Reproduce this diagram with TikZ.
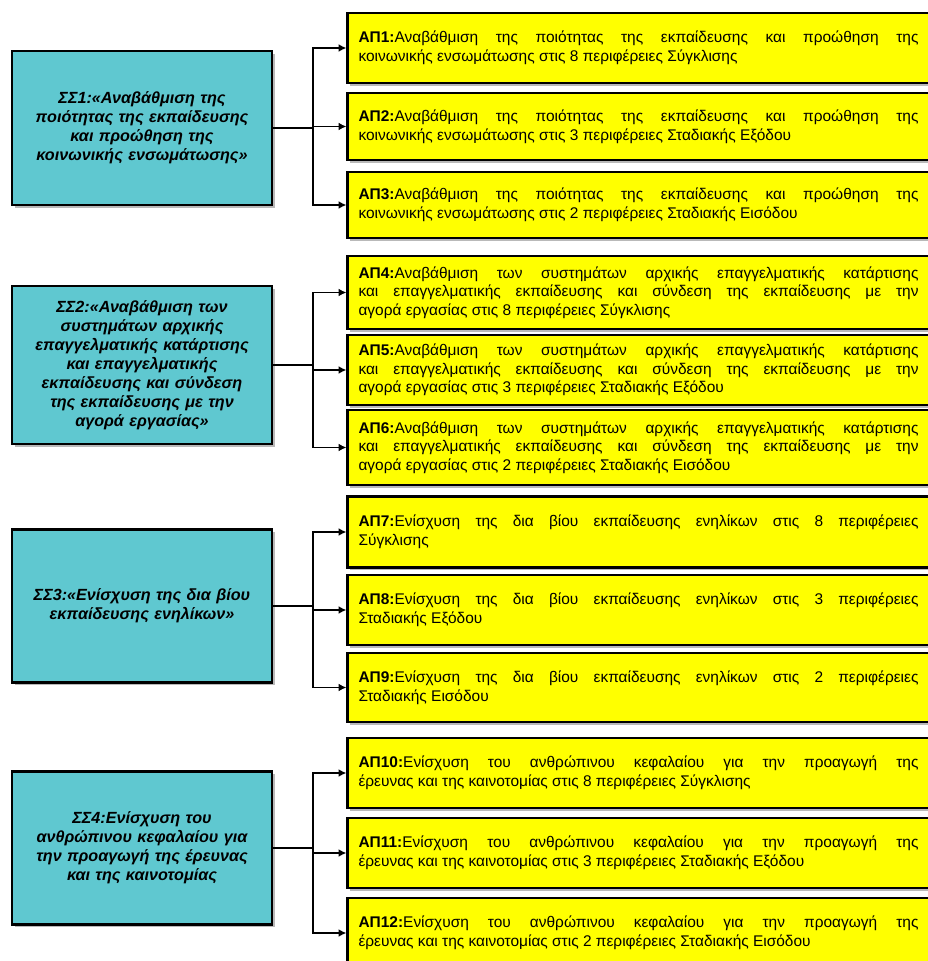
\documentclass[tikz,border=0pt]{standalone}
\usepackage{fontspec}
\setmainfont{Liberation Sans}
\usepackage{tikz}
\usetikzlibrary{arrows.meta, shadows}
\definecolor{GoalCyan}{HTML}{5FC8D0}
\definecolor{ActionYellow}{HTML}{FFFF00}
\definecolor{EdgeBlack}{HTML}{000000}
\tikzset{
    goalbox/.style={
        draw=EdgeBlack,
        line width=1.6pt,
        fill=GoalCyan,
        minimum width=5.2cm,
        text width=4.9cm,
        font=\fontsize{9.2}{10.8}\selectfont\bfseries\itshape,
        align=center,
        drop shadow={shadow xshift=1.5pt, shadow yshift=-1.5pt, fill=black!55}
    },
    actionbox/.style={
        draw=EdgeBlack,
        line width=1.2pt,
        fill=ActionYellow,
        minimum width=11.64cm,
        minimum height=1.4cm,
        text width=11.2cm,
        font=\fontsize{8.8}{10.6}\selectfont,
        align=justify,
        drop shadow={shadow xshift=1.5pt, shadow yshift=-1.5pt, fill=black!55}
    },
    link/.style={
        -{Latex[length=4.5pt, width=4.5pt]},
        line width=1.1pt,
        EdgeBlack
    }
}
\begin{document}
\begin{tikzpicture}
    \useasboundingbox (0,0) rectangle (18.56,-19.22);

    % Strategic goal 1
    \node[goalbox, minimum height=3.08cm] (ss1) at (2.84,-2.56) {ΣΣ1:«Αναβάθμιση της\\ ποιότητας της εκπαίδευσης\\ και προώθηση της\\ κοινωνικής ενσωμάτωσης»};

    \node[actionbox] (ap1) at (12.77,-0.96) {\textbf{ΑΠ1:}Αναβάθμιση της ποιότητας της εκπαίδευσης και προώθηση της\linebreak κοινωνικής ενσωμάτωσης στις 8 περιφέρειες Σύγκλισης};
    \node[actionbox, minimum height=1.34cm] (ap2) at (12.77,-2.53) {\textbf{ΑΠ2:}Αναβάθμιση της ποιότητας της εκπαίδευσης και προώθηση της\linebreak κοινωνικής ενσωμάτωσης στις 3 περιφέρειες Σταδιακής Εξόδου};
    \node[actionbox, minimum height=1.32cm] (ap3) at (12.77,-4.10) {\textbf{ΑΠ3:}Αναβάθμιση της ποιότητας της εκπαίδευσης και προώθηση της\linebreak κοινωνικής ενσωμάτωσης στις 2 περιφέρειες Σταδιακής Εισόδου};

    \draw[link] (ss1.east) -- ++(0.8,0) |- (ap1.west);
    \draw[link] (ss1.east) -- ++(0.8,0) |- (ap2.west);
    \draw[link] (ss1.east) -- ++(0.8,0) |- (ap3.west);

    % Strategic goal 2
    \node[goalbox, minimum height=3.16cm] (ss2) at (2.84,-7.30) {ΣΣ2:«Αναβάθμιση των\\ συστημάτων αρχικής\\ επαγγελματικής κατάρτισης\\ και επαγγελματικής\\ εκπαίδευσης και σύνδεση\\ της εκπαίδευσης με την\\ αγορά εργασίας»};

    \node[actionbox, minimum height=1.46cm] (ap4) at (12.77,-5.85) {\textbf{ΑΠ4:}Αναβάθμιση των συστημάτων αρχικής επαγγελματικής κατάρτισης\linebreak και επαγγελματικής εκπαίδευσης και σύνδεση της εκπαίδευσης με την\linebreak αγορά εργασίας στις 8 περιφέρειες Σύγκλισης};
    \node[actionbox] (ap5) at (12.77,-7.40) {\textbf{ΑΠ5:}Αναβάθμιση των συστημάτων αρχικής επαγγελματικής κατάρτισης\linebreak και επαγγελματικής εκπαίδευσης και σύνδεση της εκπαίδευσης με την\linebreak αγορά εργασίας στις 3 περιφέρειες Σταδιακής Εξόδου};
    \node[actionbox, minimum height=1.5cm] (ap6) at (12.77,-8.95) {\textbf{ΑΠ6:}Αναβάθμιση των συστημάτων αρχικής επαγγελματικής κατάρτισης\linebreak και επαγγελματικής εκπαίδευσης και σύνδεση της εκπαίδευσης με την\linebreak αγορά εργασίας στις 2 περιφέρειες Σταδιακής Εισόδου};

    \draw[link] (ss2.east) -- ++(0.8,0) |- (ap4.west);
    \draw[link] (ss2.east) -- ++(0.8,0) |- (ap5.west);
    \draw[link] (ss2.east) -- ++(0.8,0) |- (ap6.west);

    % Strategic goal 3
    \node[goalbox, minimum height=3.06cm] (ss3) at (2.84,-12.12) {ΣΣ3:«Ενίσχυση της δια βίου\\ εκπαίδευσης ενηλίκων»};

    \node[actionbox, minimum height=1.42cm] (ap7) at (12.77,-10.64) {\textbf{ΑΠ7:}Ενίσχυση της δια βίου εκπαίδευσης ενηλίκων στις 8 περιφέρειες\linebreak Σύγκλισης};
    \node[actionbox] (ap8) at (12.77,-12.20) {\textbf{ΑΠ8:}Ενίσχυση της δια βίου εκπαίδευσης ενηλίκων στις 3 περιφέρειες\linebreak Σταδιακής Εξόδου};
    \node[actionbox, minimum height=1.38cm] (ap9) at (12.77,-13.75) {\textbf{ΑΠ9:}Ενίσχυση της δια βίου εκπαίδευσης ενηλίκων στις 2 περιφέρειες\linebreak Σταδιακής Εισόδου};

    \draw[link] (ss3.east) -- ++(0.8,0) |- (ap7.west);
    \draw[link] (ss3.east) -- ++(0.8,0) |- (ap8.west);
    \draw[link] (ss3.east) -- ++(0.8,0) |- (ap9.west);

    % Strategic goal 4
    \node[goalbox, minimum height=3.06cm] (ss4) at (2.84,-16.96) {ΣΣ4:Ενίσχυση του\\ ανθρώπινου κεφαλαίου για\\ την προαγωγή της έρευνας\\ και της καινοτομίας};

    \node[actionbox] (ap10) at (12.77,-15.46) {\textbf{ΑΠ10:}Ενίσχυση του ανθρώπινου κεφαλαίου για την προαγωγή της\linebreak έρευνας και της καινοτομίας στις 8 περιφέρειες Σύγκλισης};
    \node[actionbox] (ap11) at (12.77,-17.06) {\textbf{ΑΠ11:}Ενίσχυση του ανθρώπινου κεφαλαίου για την προαγωγή της\linebreak έρευνας και της καινοτομίας στις 3 περιφέρειες Σταδιακής Εξόδου};
    \node[actionbox] (ap12) at (12.77,-18.66) {\textbf{ΑΠ12:}Ενίσχυση του ανθρώπινου κεφαλαίου για την προαγωγή της\linebreak έρευνας και της καινοτομίας στις 2 περιφέρειες Σταδιακής Εισόδου};

    \draw[link] (ss4.east) -- ++(0.8,0) |- (ap10.west);
    \draw[link] (ss4.east) -- ++(0.8,0) |- (ap11.west);
    \draw[link] (ss4.east) -- ++(0.8,0) |- (ap12.west);
\end{tikzpicture}
\end{document}
